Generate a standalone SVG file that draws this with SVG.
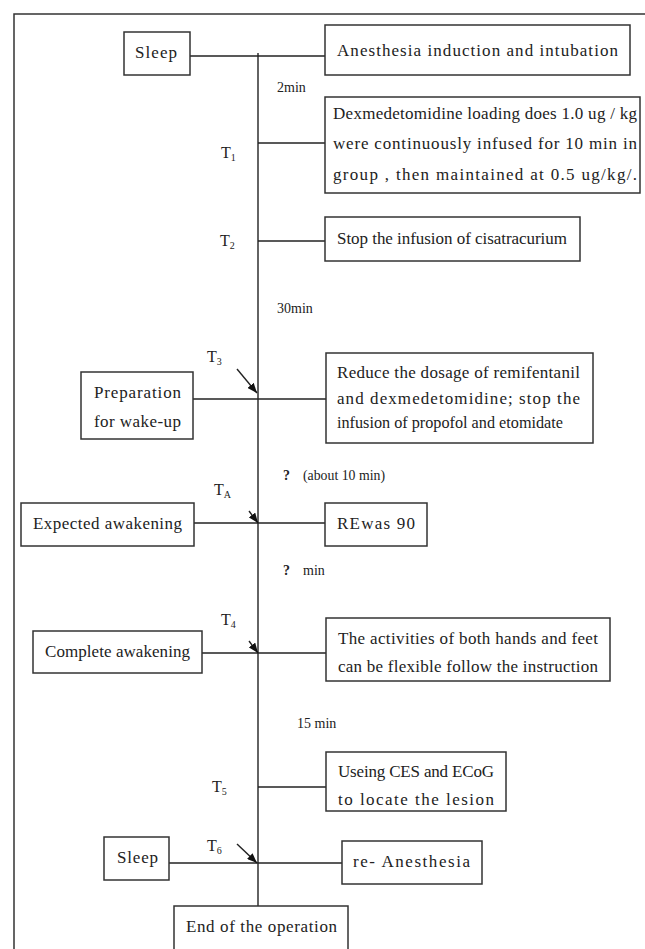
<svg xmlns="http://www.w3.org/2000/svg" width="645" height="949" viewBox="0 0 645 949">
<style>
.box{fill:#fff;stroke:#333;stroke-width:1.5}
.ln{stroke:#222;stroke-width:1.4;fill:none}
.t{font-family:"Liberation Serif","Times New Roman",serif;font-size:17px;fill:#222}
.s{font-family:"Liberation Serif","Times New Roman",serif;font-size:14px;fill:#222}
.lab{font-family:"Liberation Serif","Times New Roman",serif;font-size:16px;fill:#222}
.sub{font-size:10px}
</style>
<defs>
<marker id="ah" markerUnits="userSpaceOnUse" markerWidth="10" markerHeight="8" refX="10" refY="4" orient="auto">
<path d="M0,0 L10,4 L0,8 Z" fill="#111"/>
</marker>
</defs>
<rect x="14" y="14" width="700" height="1000" fill="none" stroke="#333" stroke-width="1.5"/>
<g id="connectors">
<line class="ln" x1="258" y1="53" x2="258" y2="906"/>
<line class="ln" x1="190" y1="56" x2="325" y2="56"/>
<line class="ln" x1="258" y1="143" x2="325" y2="143"/>
<line class="ln" x1="258" y1="241" x2="325" y2="241"/>
<line class="ln" x1="193" y1="399" x2="326" y2="399"/>
<line class="ln" x1="194" y1="523" x2="325" y2="523"/>
<line class="ln" x1="202" y1="653" x2="326" y2="653"/>
<line class="ln" x1="258" y1="787" x2="326" y2="787"/>
<line class="ln" x1="169" y1="863" x2="342" y2="863"/>
<line class="ln" x1="237" y1="369" x2="257" y2="393" marker-end="url(#ah)"/>
<line class="ln" x1="249" y1="511" x2="258" y2="523" marker-end="url(#ah)"/>
<line class="ln" x1="249" y1="641" x2="258" y2="653" marker-end="url(#ah)"/>
<line class="ln" x1="237" y1="844" x2="257" y2="863" marker-end="url(#ah)"/>
</g>
<g id="labels">
<text class="s" x="277" y="92">2min</text>
<text class="lab" x="221" y="158">T<tspan class="sub" dy="3">1</tspan></text>
<text class="lab" x="220" y="246">T<tspan class="sub" dy="3">2</tspan></text>
<text class="s" x="277" y="313">30min</text>
<text class="lab" x="207" y="362">T<tspan class="sub" dy="3">3</tspan></text>
<text class="s" x="283" y="480" font-weight="bold">?</text>
<text class="s" x="303" y="480" textLength="82" lengthAdjust="spacingAndGlyphs" font-size="13">(about 10 min)</text>
<text class="lab" x="214" y="495">T<tspan class="sub" dy="3">A</tspan></text>
<text class="s" x="283" y="575" font-weight="bold">?</text>
<text class="s" x="303" y="575">min</text>
<text class="lab" x="221" y="625">T<tspan class="sub" dy="3">4</tspan></text>
<text class="s" x="297" y="728">15 min</text>
<text class="lab" x="212" y="792">T<tspan class="sub" dy="3">5</tspan></text>
<text class="lab" x="207" y="851">T<tspan class="sub" dy="3">6</tspan></text>
</g>
<g id="sleep1">
<rect class="box" x="124" y="32" width="66" height="43"/>
<text class="t" x="135" y="58" textLength="42" lengthAdjust="spacing">Sleep</text>
</g>
<g id="induction">
<rect class="box" x="325" y="25" width="305" height="50"/>
<text class="t" x="337" y="56" textLength="281" lengthAdjust="spacing">Anesthesia induction and intubation</text>
</g>
<g id="dexmed">
<rect class="box" x="325" y="97" width="315" height="96"/>
<text class="t" x="333" y="119" textLength="304" lengthAdjust="spacing">Dexmedetomidine loading does 1.0 ug / kg</text>
<text class="t" x="333" y="149" textLength="304" lengthAdjust="spacing">were continuously infused for 10 min in</text>
<text class="t" x="333" y="180" textLength="304" lengthAdjust="spacing">group , then maintained at 0.5 ug/kg/.</text>
</g>
<g id="stop">
<rect class="box" x="325" y="217" width="255" height="44"/>
<text class="t" x="337" y="244" textLength="230" lengthAdjust="spacing">Stop the infusion of cisatracurium</text>
</g>
<g id="prep">
<rect class="box" x="81" y="372" width="112" height="67"/>
<text class="t" x="94" y="398" textLength="87" lengthAdjust="spacing">Preparation</text>
<text class="t" x="94" y="427" textLength="87" lengthAdjust="spacing">for wake-up</text>
</g>
<g id="reduce">
<rect class="box" x="326" y="353" width="267" height="90"/>
<text class="t" x="337" y="378" textLength="243" lengthAdjust="spacing">Reduce the dosage of remifentanil</text>
<text class="t" x="337" y="404" textLength="243" lengthAdjust="spacing">and  dexmedetomidine;  stop  the</text>
<text class="t" x="337" y="428" textLength="226" lengthAdjust="spacingAndGlyphs">infusion of propofol and etomidate</text>
</g>
<g id="expected">
<rect class="box" x="21" y="503" width="173" height="43"/>
<text class="t" x="33" y="529" textLength="149" lengthAdjust="spacing">Expected awakening</text>
</g>
<g id="rewas">
<rect class="box" x="325" y="503" width="102" height="43"/>
<text class="t" x="337" y="529" textLength="78" lengthAdjust="spacing">REwas 90</text>
</g>
<g id="complete">
<rect class="box" x="33" y="631" width="169" height="42"/>
<text class="t" x="45" y="657" textLength="145" lengthAdjust="spacing">Complete awakening</text>
</g>
<g id="activities">
<rect class="box" x="326" y="618" width="284" height="63"/>
<text class="t" x="338" y="644" textLength="260" lengthAdjust="spacing">The activities of both hands and feet</text>
<text class="t" x="338" y="672" textLength="260" lengthAdjust="spacing">can be flexible follow the instruction</text>
</g>
<g id="using">
<rect class="box" x="326" y="752" width="180" height="59"/>
<text class="t" x="338" y="777" textLength="156" lengthAdjust="spacing">Useing CES and ECoG</text>
<text class="t" x="338" y="805" textLength="156" lengthAdjust="spacing">to locate the lesion</text>
</g>
<g id="sleep2">
<rect class="box" x="104" y="837" width="65" height="43"/>
<text class="t" x="117" y="863" textLength="41" lengthAdjust="spacing">Sleep</text>
</g>
<g id="reanesthesia">
<rect class="box" x="342" y="841" width="140" height="43"/>
<text class="t" x="353" y="867" textLength="117" lengthAdjust="spacing">re- Anesthesia</text>
</g>
<g id="end">
<rect class="box" x="174" y="906" width="174" height="60"/>
<text class="t" x="186" y="932" textLength="151" lengthAdjust="spacing">End of the operation</text>
</g>
</svg>
